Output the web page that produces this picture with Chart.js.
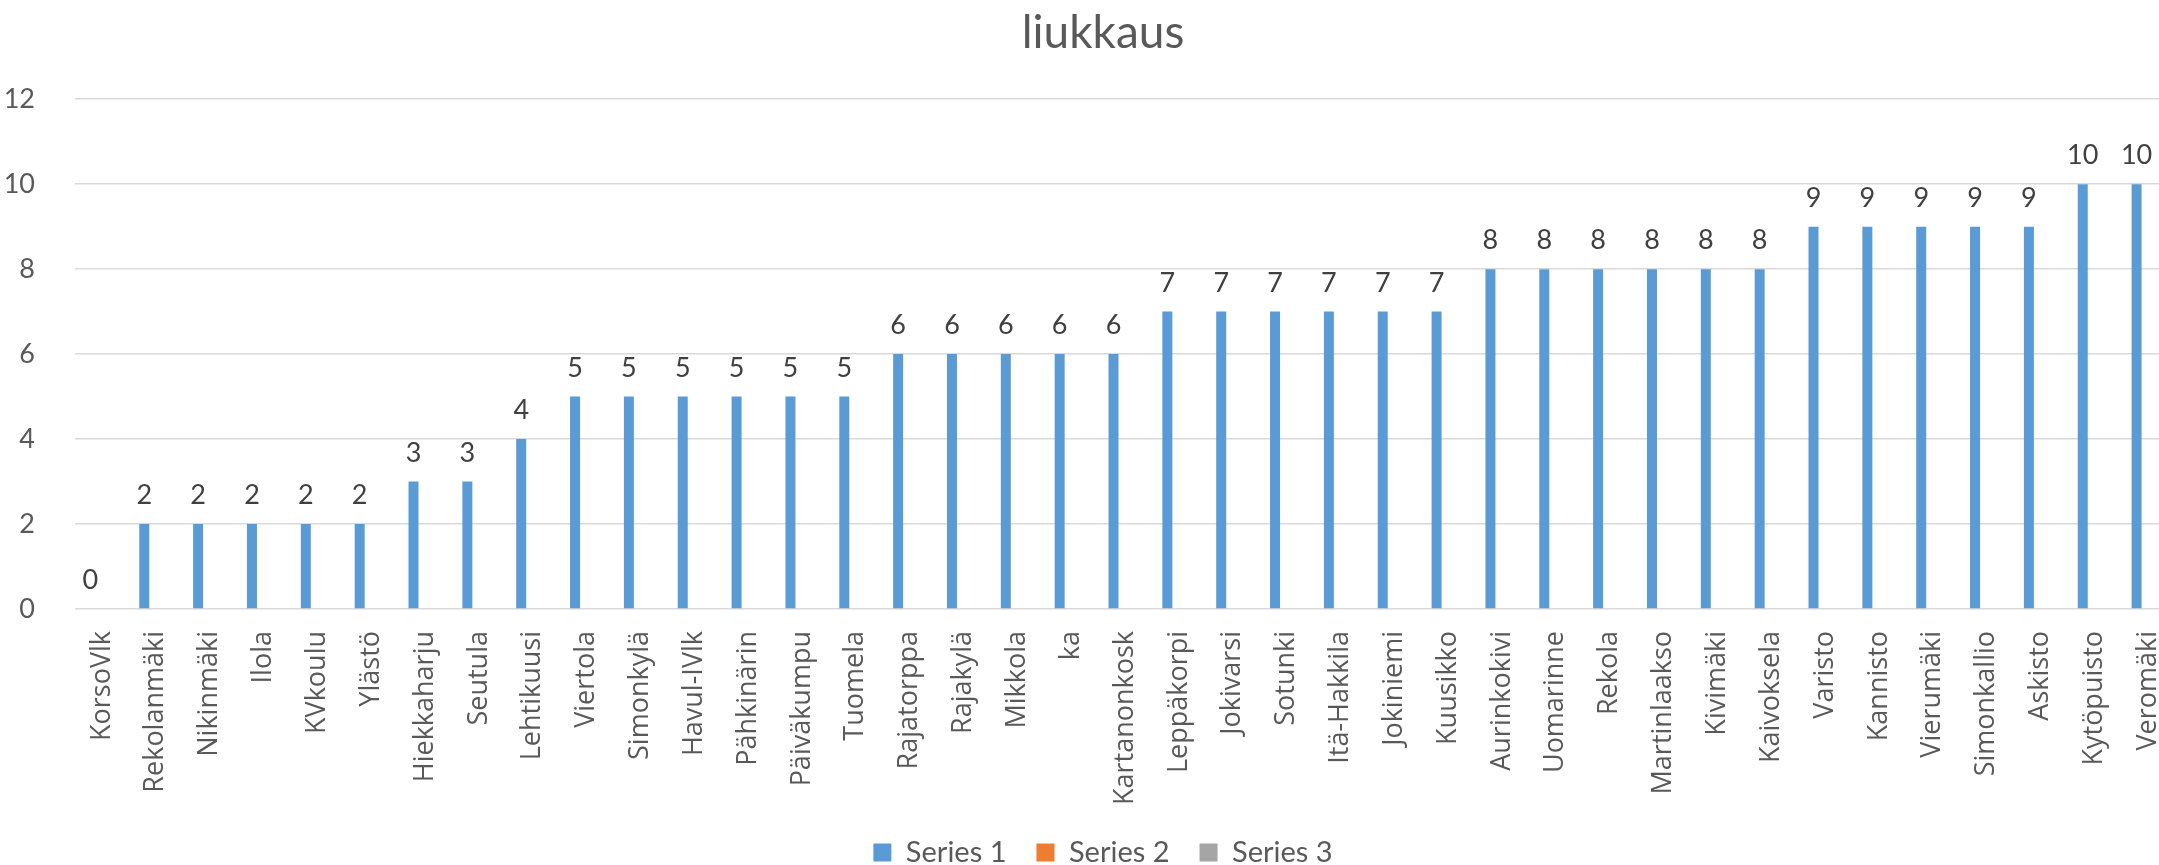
<!DOCTYPE html>
<html>
<head>
<meta charset="utf-8">
<script src="https://cdn.jsdelivr.net/npm/chart.js@4.4.1/dist/chart.umd.min.js"></script>
<style>
  html, body { margin: 0; padding: 0; background: #fff; overflow: hidden; }
  #wrap { width: 2206px; height: 865px; }
</style>
</head>
<body>
<div id="wrap"><canvas id="myChart" width="2206" height="865"></canvas></div>
<script>
// dati
const categories = [
  "KorsoVlk", "Rekolanmäki", "Nikinmäki", "Ilola", "KVkoulu", "Ylästö",
  "Hiekkaharju", "Seutula", "Lehtikuusi", "Viertola", "Simonkylä", "Havul-IVlk",
  "Pähkinärin", "Päiväkumpu", "Tuomela", "Rajatorppa", "Rajakylä", "Mikkola",
  "ka", "Kartanonkosk", "Leppäkorpi", "Jokivarsi", "Sotunki", "Itä-Hakkila",
  "Jokiniemi", "Kuusikko", "Aurinkokivi", "Uomarinne", "Rekola", "Martinlaakso",
  "Kivimäki", "Kaivoksela", "Varisto", "Kannisto", "Vierumäki", "Simonkallio",
  "Askisto", "Kytöpuisto", "Veromäki"
];
const series1 = [
  0, 2, 2, 2, 2, 2, 3, 3, 4, 5, 5, 5, 5, 5, 5, 6, 6, 6, 6, 6,
  7, 7, 7, 7, 7, 7, 8, 8, 8, 8, 8, 8, 9, 9, 9, 9, 9, 10, 10
];
const series2 = [];
const series3 = [];
const yTicks = [0, 2, 4, 6, 8, 10, 12];

const bottomPad = -12;

// etichette sopra le barre della prima serie
const barLabels = {
  id: "barLabels",
  afterDatasetsDraw(chart) {
    const ctx = chart.ctx;
    const meta = chart.getDatasetMeta(0);
    ctx.save();
    ctx.font = "27px Lato";
    ctx.fillStyle = "#404040";
    ctx.textAlign = "center";
    ctx.textBaseline = "alphabetic";
    meta.data.forEach((bar, i) => {
      ctx.fillText(String(series1[i]), bar.x, bar.y - 20);
    });
    ctx.restore();
  },
};

const ctx = document.getElementById("myChart").getContext("2d");
const myChart = new Chart(ctx, {
  type: "bar",
  data: {
    labels: categories,
    datasets: [
      { label: "Series 1", data: series1, backgroundColor: "#5B9BD5" },
      { label: "Series 2", data: series2, backgroundColor: "#ED7D31" },
      { label: "Series 3", data: series3, backgroundColor: "#A5A5A5" },
    ],
  },
  plugins: [barLabels],
  options: {
    responsive: false,
    animation: false,
    devicePixelRatio: 1,
    categoryPercentage: 0.64,
    barPercentage: 0.87,
    layout: { padding: { left: 2, right: 2, top: 0, bottom: bottomPad } },
    plugins: {
      tooltip: { enabled: false },
      title: {
        display: true,
        text: "liukkaus",
        color: "#595959",
        font: { family: "Lato", size: 46, weight: "normal" },
        padding: { top: 6, bottom: 38 },
      },
      legend: {
        position: "bottom",
        labels: {
          color: "#595959",
          font: { family: "Lato", size: 29 },
          boxWidth: 18,
          boxHeight: 18,
          padding: 30,
        },
      },
    },
    scales: {
      x: {
        grid: { display: false },
        border: { display: false },
        afterFit: (axis) => {
          axis.height = axis.chart.height - bottomPad - axis.chart.legend.height - 609;
        },
        ticks: {
          color: "#595959",
          font: { family: "Open Sans", size: 27 },
          maxRotation: 90,
          minRotation: 90,
          autoSkip: false,
          padding: 14,
        },
      },
      y: {
        min: 0,
        max: 12,
        afterBuildTicks: (axis) => {
          axis.ticks = yTicks.map((v) => ({ value: v }));
        },
        afterFit: (axis) => {
          axis.width = 73;
        },
        grid: { color: "#d9d9d9", lineWidth: 1.5, drawTicks: false },
        border: { display: false },
        ticks: {
          color: "#595959",
          font: { family: "Lato", size: 27 },
          padding: 40,
        },
      },
      // spazio vuoto a destra per centrare titolo e legenda come nell'originale
      yRight: {
        position: "right",
        display: true,
        grid: { display: false },
        border: { display: false },
        ticks: { display: false },
        afterFit: (axis) => {
          axis.width = 29;
        },
      },
    },
  },
});
</script>
</body>
</html>
